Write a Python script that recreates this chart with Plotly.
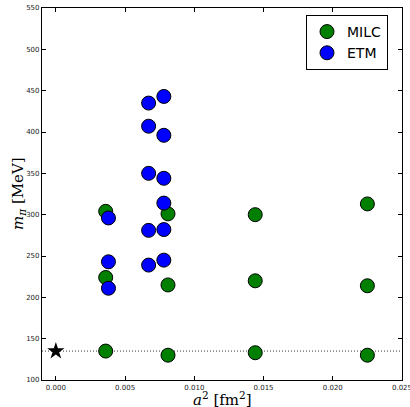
import plotly.graph_objects as go

milc_a2 = [0.0036, 0.0036, 0.0036, 0.0081, 0.0081, 0.0081, 0.0144, 0.0144, 0.0144, 0.0225, 0.0225, 0.0225]
milc_mpi = [304, 224, 135, 301, 215, 130, 300, 220, 133, 313, 214, 130]
etm_a2 = [0.0038, 0.0038, 0.0038, 0.0067, 0.0067, 0.0067, 0.0067, 0.0067, 0.0078, 0.0078, 0.0078, 0.0078, 0.0078, 0.0078]
etm_mpi = [296, 243, 211, 435, 407, 350, 281, 239, 443, 396, 344, 314, 282, 245]
phys_a2 = [0.0]
phys_mpi = [135]
line_x = [-0.001, 0.025]

fig = go.Figure()
fig.add_trace(go.Scatter(x=line_x, y=[phys_mpi[0]] * 2, mode="lines",
                         line=dict(color="black", width=0.8, dash="1px,2px"),
                         showlegend=False, hoverinfo="skip"))
fig.add_trace(go.Scatter(x=milc_a2, y=milc_mpi, mode="markers", name="MILC",
                         marker=dict(color="#007f00", size=14, line=dict(color="black", width=1))))
fig.add_trace(go.Scatter(x=etm_a2, y=etm_mpi, mode="markers", name="ETM",
                         marker=dict(color="#0000ff", size=14, line=dict(color="black", width=1))))
fig.add_trace(go.Scatter(x=phys_a2, y=phys_mpi, mode="markers", showlegend=False,
                         marker=dict(color="black", size=13, symbol="star")))

axis_common = dict(showgrid=False, zeroline=False, showline=True, linecolor="black",
                   linewidth=1.2, mirror="ticks", ticks="inside", ticklen=4,
                   tickcolor="black", automargin=False, ticklabeloverflow="allow",
                   tickfont=dict(size=7, family="DejaVu Sans", color="#222"))
fig.update_xaxes(range=[-0.001, 0.025], tickvals=[0, 0.005, 0.01, 0.015, 0.02, 0.025],
                 ticktext=["0.000", "0.005", "0.010", "0.015", "0.020", "0.025"],
                 **axis_common)
fig.update_yaxes(range=[100, 550], dtick=50, **axis_common)

plot_w = 360
plot_h = 372
fig.update_layout(width=410, height=407, margin=dict(l=42, r=8, t=8, b=27),
                  plot_bgcolor="white", paper_bgcolor="white",
                  legend=dict(x=(388 - 42) / plot_w, y=(380 - 15) / plot_h,
                              xanchor="right", yanchor="top",
                              bordercolor="black", borderwidth=1, bgcolor="white",
                              font=dict(size=14, family="DejaVu Sans", color="black"),
                              itemsizing="trace", tracegroupgap=0),
                  annotations=[
                      dict(text="<i>a</i><sup>2</sup> [fm<sup>2</sup>]",
                           x=(222 - 42) / plot_w, y=(380 - 399) / plot_h,
                           xanchor="center", yanchor="middle",
                           xref="paper", yref="paper", showarrow=False,
                           font=dict(size=15, family="DejaVu Serif", color="black")),
                      dict(text="<i>m</i><sub><i>π</i></sub> [MeV]",
                           x=(18 - 42) / plot_w, y=(380 - 194) / plot_h,
                           xanchor="center", yanchor="middle",
                           xref="paper", yref="paper", showarrow=False, textangle=-90,
                           font=dict(size=15, family="DejaVu Serif", color="black")),
                  ])
fig.write_html("out.html", config={"displayModeBar": False},
               post_script="document.body.style.margin='0';document.body.style.overflow='hidden';")
